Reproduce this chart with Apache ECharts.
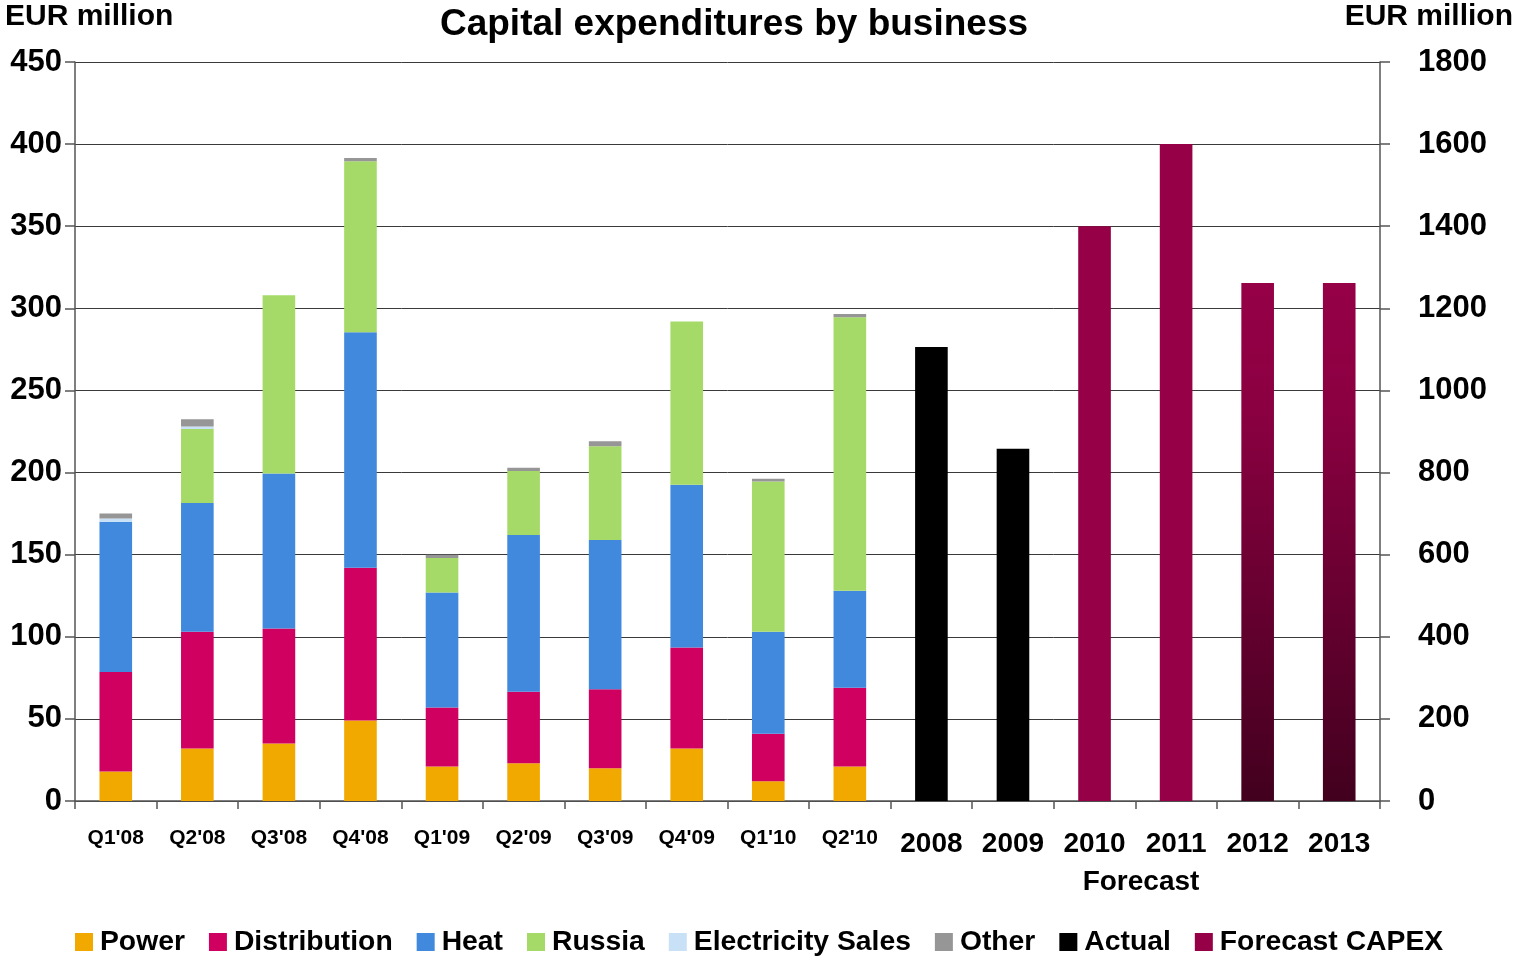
<!DOCTYPE html>
<html>
<head>
<meta charset="utf-8">
<script src="https://cdn.jsdelivr.net/npm/echarts@6/dist/echarts.min.js"></script>
<style>
  html, body { margin: 0; padding: 0; background: #fff; }
  #chart { width: 1516px; height: 956px; }
</style>
</head>
<body>
<div id="chart"></div>
<script>
// Categories: ten quarters (left axis) followed by six years (right axis)
const categories = ["Q1'08", "Q2'08", "Q3'08", "Q4'08", "Q1'09", "Q2'09", "Q3'09", "Q4'09", "Q1'10", "Q2'10",
                    "2008", "2009", "2010", "2011", "2012", "2013"];

// Quarterly capital expenditures by business, EUR million
const power            = [18, 32, 35, 49, 21, 23, 20, 32, 12, 21];
const distribution     = [60.5, 71, 70, 93, 36, 43.5, 48, 61.5, 29, 48];
const heat             = [91.5, 78.5, 94.5, 143.5, 70, 95.5, 91, 99, 62, 59];
const russia           = [0, 45, 108.5, 104, 21, 39, 57, 99.5, 91.5, 166.5];
const electricitySales = [2, 1.5, 0, 0, 0, 0, 0, 0, 0, 0];
const other            = [3, 4.5, 0, 2, 2, 2, 3, 0, 1.7, 2];

// Annual totals, EUR million
const actualYears   = ["2008", "2009"];
const actual        = [1106, 858];
const forecastYears = ["2010", "2011", "2012", "2013"];
const forecast      = [1400, 1600, 1262, 1262];
// Years drawn with the shaded forecast fill
const shadedYears   = ["2012", "2013"];

// Axis ticks
const leftTicks  = [0, 50, 100, 150, 200, 250, 300, 350, 400, 450];
const rightTicks = [0, 200, 400, 600, 800, 1000, 1200, 1400, 1600, 1800];

const FONT = "'Liberation Sans', Arial, sans-serif";
const COLORS = {
  power: '#F1A900',
  distribution: '#D00060',
  heat: '#4189DD',
  russia: '#A6DA68',
  electricitySales: '#C9E1F7',
  other: '#969696',
  actual: '#000000',
  forecast: '#960046'
};

const shadedFill = new echarts.graphic.LinearGradient(0, 0, 0, 1, [
  { offset: 0, color: '#960046' },
  { offset: 0.25, color: '#8a0041' },
  { offset: 1, color: '#42001e' }
]);

function quarterly(vals) {
  return categories.map((c, i) => (i < vals.length ? vals[i] : '-'));
}
function yearly(years, vals) {
  return categories.map(c => {
    const k = years.indexOf(c);
    if (k < 0) return '-';
    if (shadedYears.indexOf(c) >= 0) return { value: vals[k], itemStyle: { color: shadedFill } };
    return vals[k];
  });
}

function barSeries(name, data, color, axis) {
  return {
    name: name,
    type: 'bar',
    stack: 'capex',
    yAxisIndex: axis,
    barWidth: '40%',
    data: data,
    itemStyle: { color: color },
    emphasis: { disabled: true }
  };
}

const chart = echarts.init(document.getElementById('chart'));
chart.setOption({
  animation: false,
  backgroundColor: '#ffffff',
  textStyle: { fontFamily: FONT },
  grid: { left: 75, right: 136, top: 62, bottom: 155, containLabel: false },
  graphic: [
    { type: 'text', left: 5, top: 2,
      style: { text: 'EUR million', font: 'bold 30px ' + FONT, fill: '#000' } },
    { type: 'text', right: 3, top: 2,
      style: { text: 'EUR million', font: 'bold 30px ' + FONT, fill: '#000' } },
    { type: 'text', x: 734, y: 25,
      style: { text: 'Capital expenditures by business', font: 'bold 37px ' + FONT, fill: '#000',
               align: 'center', verticalAlign: 'middle' } },
    { type: 'text', x: 1141, y: 882,
      style: { text: 'Forecast', font: 'bold 28px ' + FONT, fill: '#000',
               align: 'center', verticalAlign: 'middle' } }
  ],
  legend: {
    left: 75,
    top: 928,
    padding: 0,
    icon: 'rect',
    itemWidth: 18,
    itemHeight: 18,
    itemGap: 24,
    textStyle: { fontFamily: FONT, fontWeight: 'bold', fontSize: 28.3, color: '#000', padding: [0, 0, 0, 2] },
    data: ['Power', 'Distribution', 'Heat', 'Russia', 'Electricity Sales', 'Other', 'Actual', 'Forecast CAPEX'],
    selectedMode: false
  },
  xAxis: {
    type: 'category',
    data: categories,
    boundaryGap: true,
    axisLine: { lineStyle: { color: '#555', width: 1.5 } },
    axisTick: { show: true, interval: 0, length: 8, lineStyle: { color: '#555', width: 1.5 } },
    axisLabel: {
      interval: 0,
      margin: 27,
      formatter: v => (v.charAt(0) === 'Q' ? '{q|' + v + '}' : '{y|' + v + '}'),
      rich: {
        q: { fontFamily: FONT, fontWeight: 'bold', fontSize: 21, lineHeight: 20, color: '#000' },
        y: { fontFamily: FONT, fontWeight: 'bold', fontSize: 28, lineHeight: 32, color: '#000' }
      }
    }
  },
  yAxis: [
    {
      type: 'value',
      position: 'left',
      min: leftTicks[0],
      max: leftTicks[leftTicks.length - 1],
      interval: leftTicks[1] - leftTicks[0],
      axisLine: { show: true, lineStyle: { color: '#555', width: 1.5 } },
      axisTick: { show: true, length: 10, lineStyle: { color: '#555', width: 1.5 } },
      axisLabel: { margin: 13, fontFamily: FONT, fontWeight: 'bold', fontSize: 31, color: '#000',
                   formatter: v => String(v) },
      splitLine: { show: true, lineStyle: { color: '#3a3a3a', width: 1 } }
    },
    {
      type: 'value',
      position: 'right',
      min: rightTicks[0],
      max: rightTicks[rightTicks.length - 1],
      interval: rightTicks[1] - rightTicks[0],
      axisLine: { show: true, lineStyle: { color: '#555', width: 1.5 } },
      axisTick: { show: true, length: 10, lineStyle: { color: '#555', width: 1.5 } },
      axisLabel: { margin: 38, fontFamily: FONT, fontWeight: 'bold', fontSize: 31, color: '#000',
                   formatter: v => String(v) },
      splitLine: { show: false }
    }
  ],
  series: [
    barSeries('Power', quarterly(power), COLORS.power, 0),
    barSeries('Distribution', quarterly(distribution), COLORS.distribution, 0),
    barSeries('Heat', quarterly(heat), COLORS.heat, 0),
    barSeries('Russia', quarterly(russia), COLORS.russia, 0),
    barSeries('Electricity Sales', quarterly(electricitySales), COLORS.electricitySales, 0),
    barSeries('Other', quarterly(other), COLORS.other, 0),
    barSeries('Actual', yearly(actualYears, actual), COLORS.actual, 1),
    barSeries('Forecast CAPEX', yearly(forecastYears, forecast), COLORS.forecast, 1)
  ]
});
</script>
</body>
</html>
